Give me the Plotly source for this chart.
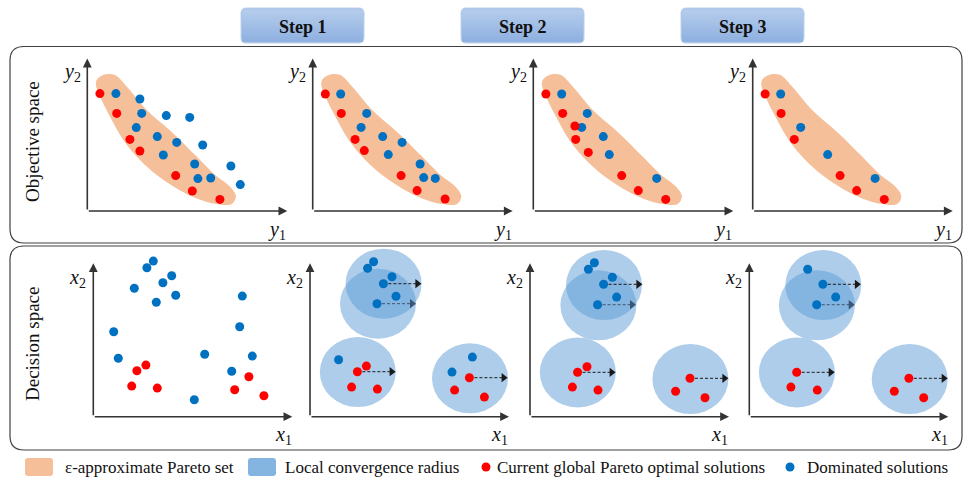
import plotly.graph_objects as go

W, H = 969, 482
S = 20.0  # pixels per data unit

# ---------------- data ----------------
STEP_LABELS = ["Step 1", "Step 2", "Step 3"]
ROW_LABELS = ["Objective space", "Decision space"]
LEGEND_LABELS = ["ε-approximate Pareto set", "Local convergence radius",
                 "Current global Pareto optimal solutions", "Dominated solutions"]

# outline of the ε-approximate Pareto set in objective space
BAND_Y1 = [0.47, 0.8, 1.38, 1.97, 2.97, 4.3, 5.47, 6.3, 7.13, 7.43, 7.22, 6.47, 5.47, 4.47, 3.47, 2.63, 1.8, 1.13, 0.63, 0.43]
BAND_Y2 = [6.55, 6.8, 6.8, 6.22, 5.05, 3.88, 2.72, 1.88, 1.22, 0.72, 0.35, 0.35, 0.63, 1.13, 1.8, 2.55, 3.55, 4.72, 5.72, 6.3]

# objective space, panel 1 (initial)
OBJ0_RED_Y1 = [0.63, 1.47, 2.13, 2.63, 4.42, 5.25, 6.63]
OBJ0_RED_Y2 = [5.87, 4.88, 3.58, 3.0, 1.77, 1.0, 0.58]
OBJ0_BLUE_Y1 = [1.43, 2.63, 2.72, 3.95, 5.12, 2.45, 3.5, 4.47, 5.77, 3.8, 5.37, 7.18, 5.53, 6.17, 7.65]
OBJ0_BLUE_Y2 = [5.87, 5.6, 4.88, 4.77, 4.68, 4.17, 3.72, 3.43, 3.3, 2.8, 2.35, 2.25, 1.62, 1.65, 1.32]
# step 1
OBJ1_RED_Y1 = [0.63, 1.43, 2.12, 2.58, 4.42, 5.22, 6.62]
OBJ1_RED_Y2 = [5.85, 4.88, 3.58, 3.02, 1.77, 1.02, 0.6]
OBJ1_BLUE_Y1 = [1.4, 2.7, 2.42, 3.5, 4.47, 3.78, 5.37, 5.55, 6.13]
OBJ1_BLUE_Y2 = [5.85, 4.88, 4.18, 3.72, 3.43, 2.82, 2.35, 1.67, 1.63]
# step 2
OBJ2_RED_Y1 = [0.63, 1.47, 2.08, 2.12, 2.75, 4.42, 5.25, 6.62]
OBJ2_RED_Y2 = [5.85, 4.88, 4.25, 3.58, 2.93, 1.77, 1.02, 0.58]
OBJ2_BLUE_Y1 = [1.42, 2.7, 2.42, 3.5, 3.8, 6.17]
OBJ2_BLUE_Y2 = [5.85, 4.88, 4.18, 3.72, 2.82, 1.63]
# step 3
OBJ3_RED_Y1 = [0.62, 1.42, 2.08, 4.37, 5.2, 6.58]
OBJ3_RED_Y2 = [5.85, 4.88, 3.58, 1.77, 1.02, 0.58]
OBJ3_BLUE_Y1 = [1.4, 2.4, 3.75, 6.12]
OBJ3_BLUE_Y2 = [5.85, 4.18, 2.82, 1.63]

# decision space, panel 1 (initial)
DEC0_BLUE_X1 = [3.0, 2.68, 3.92, 3.48, 2.05, 4.12, 3.15, 7.45, 7.32, 1.02, 1.25, 5.57, 7.95, 6.92, 5.05]
DEC0_BLUE_X2 = [7.78, 7.45, 7.05, 6.7, 6.42, 6.07, 5.72, 6.03, 4.5, 4.25, 2.92, 3.12, 3.03, 2.27, 0.85]
DEC0_RED_X1 = [2.63, 2.18, 1.92, 3.2, 7.78, 7.07, 8.53]
DEC0_RED_X2 = [2.58, 2.3, 1.53, 1.43, 2.0, 1.35, 1.05]
# step 1
DEC1_BLUE_X1 = [3.18, 2.88, 4.1, 3.67, 4.3, 3.35, 1.43, 8.12, 7.1]
DEC1_BLUE_X2 = [7.75, 7.42, 7.0, 6.65, 6.02, 5.65, 2.85, 2.98, 2.23]
DEC1_RED_X1 = [2.82, 2.37, 2.08, 3.37, 7.97, 7.23, 8.72]
DEC1_RED_X2 = [2.53, 2.25, 1.48, 1.38, 1.95, 1.33, 0.98]
DEC1_CIRCLE_X1 = [3.68, 3.4, 2.39, 8.0]
DEC1_CIRCLE_X2 = [6.65, 5.65, 2.23, 1.92]
DEC1_ARROW_X1 = [3.67, 3.35, 2.37, 7.97]
DEC1_ARROW_X2 = [6.65, 5.65, 2.25, 1.95]
DEC1_ARROW_END = [5.57, 5.3, 4.28, 9.88]
# step 2
DEC2_BLUE_X1 = [3.22, 2.92, 4.12, 3.68, 4.33, 3.38]
DEC2_BLUE_X2 = [7.7, 7.37, 6.97, 6.62, 5.98, 5.6]
DEC2_RED_X1 = [2.85, 2.38, 2.12, 3.4, 8.0, 7.28, 8.75]
DEC2_RED_X2 = [2.5, 2.22, 1.48, 1.33, 1.92, 1.27, 0.95]
DEC2_CIRCLE_X1 = [3.7, 3.42, 2.39, 8.02]
DEC2_CIRCLE_X2 = [6.58, 5.57, 2.21, 1.88]
DEC2_ARROW_X1 = [3.68, 3.38, 2.38, 8.0]
DEC2_ARROW_X2 = [6.62, 5.6, 2.22, 1.92]
DEC2_ARROW_END = [5.62, 5.3, 4.28, 9.92]
# step 3
DEC3_BLUE_X1 = [2.92, 3.68, 4.32, 3.37]
DEC3_BLUE_X2 = [7.37, 6.62, 5.98, 5.6]
DEC3_RED_X1 = [2.37, 2.08, 3.4, 7.98, 7.25, 8.72]
DEC3_RED_X2 = [2.22, 1.48, 1.33, 1.92, 1.27, 0.95]
DEC3_CIRCLE_X1 = [3.7, 3.38, 2.38, 8.02]
DEC3_CIRCLE_X2 = [6.58, 5.57, 2.21, 1.88]
DEC3_ARROW_X1 = [3.68, 3.37, 2.37, 7.98]
DEC3_ARROW_X2 = [6.62, 5.6, 2.22, 1.92]
DEC3_ARROW_END = [5.58, 5.27, 4.27, 9.92]

CIRCLE_RX, CIRCLE_RY = 1.9, 1.75

# ---------------- styles ----------------
RED = "#FF0000"
BLUE = "#0070C0"
ORANGE_FILL = "#F5BF9A"
CIRCLE_FILL = "rgba(91,155,213,0.5)"
LEGEND_BLUE = "#84B4E0"
AXIS_COL = "#333333"
FONT = "Liberation Serif"
DOT = 9

fig = go.Figure()


def pxx(x):
    return x / W


def pxy(y):
    return 1 - y / H


TOP_OX = [87.3, 312.7, 533.3, 752.7]
TOP_OY = 211.0
BOT_OX = [93.3, 310.0, 530.0, 749.3]
BOT_OY = 416.7


def setup_axes(i, ox, oy):
    left = max(ox - 25, 0)
    right = min(ox + 230, W)
    top = max(oy - 182, 0)
    bottom = min(oy + 25, H)
    sx = "" if i == 1 else str(i)
    fig.update_layout(**{
        f"xaxis{sx}": dict(domain=[left / W, right / W], range=[(left - ox) / S, (right - ox) / S],
                           visible=False, fixedrange=True, anchor=f"y{sx}"),
        f"yaxis{sx}": dict(domain=[1 - bottom / H, 1 - top / H], range=[(oy - bottom) / S, (oy - top) / S],
                           visible=False, fixedrange=True, anchor=f"x{sx}"),
    })
    return f"x{sx}", f"y{sx}"


annotations = []
shapes = []


def axis_arrows(xr, yr, lx, ly, xlab, ylab, lab_pos):
    for (x, y) in [(lx, 0), (0, ly)]:
        annotations.append(dict(x=x, y=y, ax=0, ay=0, xref=xr, yref=yr, axref=xr, ayref=yr,
                                text="", showarrow=True, arrowhead=2, arrowsize=1.1,
                                arrowwidth=1.6, arrowcolor=AXIS_COL, standoff=0, startstandoff=0))
    (xlx, xly), (ylx, yly) = lab_pos
    annotations.append(dict(x=xlx, y=xly, xref=xr, yref=yr, showarrow=False,
                            xanchor="center", yanchor="middle",
                            text=f"<i>{xlab}</i><sub>1</sub>", font=dict(family=FONT, size=20, color="#111")))
    annotations.append(dict(x=ylx, y=yly, xref=xr, yref=yr, showarrow=False,
                            xanchor="center", yanchor="middle",
                            text=f"<i>{ylab}</i><sub>2</sub>", font=dict(family=FONT, size=20, color="#111")))


def dots(xr, yr, xs, ys, color):
    fig.add_trace(go.Scatter(x=xs, y=ys, xaxis=xr, yaxis=yr, mode="markers", cliponaxis=False,
                             marker=dict(color=color, size=DOT, line=dict(width=0)),
                             showlegend=False, hoverinfo="skip"))


# ---- objective space panels ----
OBJ = [
    (OBJ0_RED_Y1, OBJ0_RED_Y2, OBJ0_BLUE_Y1, OBJ0_BLUE_Y2),
    (OBJ1_RED_Y1, OBJ1_RED_Y2, OBJ1_BLUE_Y1, OBJ1_BLUE_Y2),
    (OBJ2_RED_Y1, OBJ2_RED_Y2, OBJ2_BLUE_Y1, OBJ2_BLUE_Y2),
    (OBJ3_RED_Y1, OBJ3_RED_Y2, OBJ3_BLUE_Y1, OBJ3_BLUE_Y2),
]
for k, (ry1, ry2, by1, by2) in enumerate(OBJ):
    xr, yr = setup_axes(k + 1, TOP_OX[k], TOP_OY)
    fig.add_trace(go.Scatter(x=BAND_Y1 + BAND_Y1[:1], y=BAND_Y2 + BAND_Y2[:1], xaxis=xr, yaxis=yr,
                             mode="lines", fill="toself", fillcolor=ORANGE_FILL,
                             line=dict(width=0, shape="spline", smoothing=1.0, color=ORANGE_FILL),
                             showlegend=False, hoverinfo="skip"))
    dots(xr, yr, by1, by2, BLUE)
    dots(xr, yr, ry1, ry2, RED)
    axis_arrows(xr, yr, 10.0, 7.62, "y", "y", ((9.5, -0.95), (-0.77, 6.95)))

# ---- decision space panels ----
DEC = [
    (DEC0_RED_X1, DEC0_RED_X2, DEC0_BLUE_X1, DEC0_BLUE_X2, None),
    (DEC1_RED_X1, DEC1_RED_X2, DEC1_BLUE_X1, DEC1_BLUE_X2,
     (DEC1_CIRCLE_X1, DEC1_CIRCLE_X2, DEC1_ARROW_X1, DEC1_ARROW_X2, DEC1_ARROW_END)),
    (DEC2_RED_X1, DEC2_RED_X2, DEC2_BLUE_X1, DEC2_BLUE_X2,
     (DEC2_CIRCLE_X1, DEC2_CIRCLE_X2, DEC2_ARROW_X1, DEC2_ARROW_X2, DEC2_ARROW_END)),
    (DEC3_RED_X1, DEC3_RED_X2, DEC3_BLUE_X1, DEC3_BLUE_X2,
     (DEC3_CIRCLE_X1, DEC3_CIRCLE_X2, DEC3_ARROW_X1, DEC3_ARROW_X2, DEC3_ARROW_END)),
]
ARROW_COLORS = ["#1a1a1a", "#3c5675", "#1a1a1a", "#1a1a1a"]
for k, (rx1, rx2, bx1, bx2, extra) in enumerate(DEC):
    xr, yr = setup_axes(k + 5, BOT_OX[k], BOT_OY)
    if extra is not None:
        cx, cy, ax1, ax2, aend = extra
        for j in range(len(cx)):
            shapes.append(dict(type="circle", xref=xr, yref=yr, layer="below",
                               x0=cx[j] - CIRCLE_RX, x1=cx[j] + CIRCLE_RX,
                               y0=cy[j] - CIRCLE_RY, y1=cy[j] + CIRCLE_RY,
                               fillcolor=CIRCLE_FILL, line=dict(width=0)))
        for j in range(len(ax1)):
            fig.add_trace(go.Scatter(x=[ax1[j], aend[j] - 0.2], y=[ax2[j], ax2[j]], xaxis=xr, yaxis=yr,
                                     mode="lines", line=dict(color=ARROW_COLORS[j], width=1, dash="3px,2px"),
                                     cliponaxis=False, showlegend=False, hoverinfo="skip"))
            fig.add_trace(go.Scatter(x=[aend[j] - 0.2], y=[ax2[j]], xaxis=xr, yaxis=yr, mode="markers",
                                     marker=dict(symbol="triangle-right", size=8, color=ARROW_COLORS[j]),
                                     cliponaxis=False, showlegend=False, hoverinfo="skip"))
    dots(xr, yr, bx1, bx2, BLUE)
    dots(xr, yr, rx1, rx2, RED)
    axis_arrows(xr, yr, 9.95, 7.67, "x", "x", ((9.49, -0.92), (-0.77, 6.93)))


# ---- frames ----
def rrect(x0, y0, x1, y1, r):
    return (f"M {pxx(x0 + r)},{pxy(y0)} L {pxx(x1 - r)},{pxy(y0)} "
            f"Q {pxx(x1)},{pxy(y0)} {pxx(x1)},{pxy(y0 + r)} L {pxx(x1)},{pxy(y1 - r)} "
            f"Q {pxx(x1)},{pxy(y1)} {pxx(x1 - r)},{pxy(y1)} L {pxx(x0 + r)},{pxy(y1)} "
            f"Q {pxx(x0)},{pxy(y1)} {pxx(x0)},{pxy(y1 - r)} L {pxx(x0)},{pxy(y0 + r)} "
            f"Q {pxx(x0)},{pxy(y0)} {pxx(x0 + r)},{pxy(y0)} Z")


for (y0, y1) in [(46.5, 243.0), (246.0, 450.0)]:
    shapes.append(dict(type="path", xref="paper", yref="paper", path=rrect(10, y0, 962, y1, 14),
                       line=dict(color="#404040", width=1.2), fillcolor="rgba(0,0,0,0)", layer="below"))

# step boxes with vertical gradient
STEP_X0 = [241, 461, 681]
for i, x0 in enumerate(STEP_X0):
    x1 = x0 + 123
    shapes.append(dict(type="path", xref="paper", yref="paper", path=rrect(x0, 8, x1, 43, 5),
                       line=dict(color="#BCD1EC", width=1), fillcolor="#A2BFE6", layer="below"))
    n = 14
    top_c = (182, 205, 236)
    bot_c = (142, 176, 224)
    for s in range(n):
        ya = 9.5 + (43 - 1.5 - 9.5) * s / n
        yb = 9.5 + (43 - 1.5 - 9.5) * (s + 1) / n
        t = (s + 0.5) / n
        c = tuple(int(round(top_c[q] + (bot_c[q] - top_c[q]) * t)) for q in range(3))
        shapes.append(dict(type="rect", xref="paper", yref="paper", layer="below",
                           x0=pxx(x0 + 1), x1=pxx(x1 - 1), y0=pxy(yb + 0.3), y1=pxy(ya),
                           fillcolor=f"rgb{c}", line=dict(width=0)))
    annotations.append(dict(x=pxx((x0 + x1) / 2), y=pxy(26.5), xref="paper", yref="paper", showarrow=False,
                            xanchor="center", yanchor="middle",
                            text=f"<b>{STEP_LABELS[i]}</b>", font=dict(family=FONT, size=18, color="#111")))

# row labels
for lab, yc in zip(ROW_LABELS, [141, 344]):
    annotations.append(dict(x=pxx(32), y=pxy(yc), xref="paper", yref="paper", showarrow=False,
                            xanchor="center", yanchor="middle",
                            text=lab, textangle=-90, font=dict(family=FONT, size=19, color="#111")))

# legend
shapes.append(dict(type="path", xref="paper", yref="paper", path=rrect(25, 458, 53, 476, 3),
                   fillcolor=ORANGE_FILL, line=dict(width=0)))
shapes.append(dict(type="path", xref="paper", yref="paper", path=rrect(248, 458, 276, 476, 3),
                   fillcolor=LEGEND_BLUE, line=dict(width=0)))
for cxp, col in [(486, RED), (790, BLUE)]:
    shapes.append(dict(type="circle", xref="paper", yref="paper",
                       x0=pxx(cxp - 4.5), x1=pxx(cxp + 4.5), y0=pxy(467 + 4.5), y1=pxy(467 - 4.5),
                       fillcolor=col, line=dict(width=0)))
for lab, xl in zip(LEGEND_LABELS, [63, 283, 495, 805]):
    annotations.append(dict(x=pxx(xl), y=pxy(467), xref="paper", yref="paper", showarrow=False,
                            xanchor="left", yanchor="middle",
                            text=lab, font=dict(family=FONT, size=17, color="#111")))

fig.update_layout(width=W, height=H, margin=dict(l=0, r=0, t=0, b=0),
                  paper_bgcolor="white", plot_bgcolor="rgba(0,0,0,0)",
                  showlegend=False, shapes=shapes, annotations=annotations)

fig.write_html("out.html", config={"displayModeBar": False},
               post_script="document.body.style.margin='0';document.body.style.padding='0';")
